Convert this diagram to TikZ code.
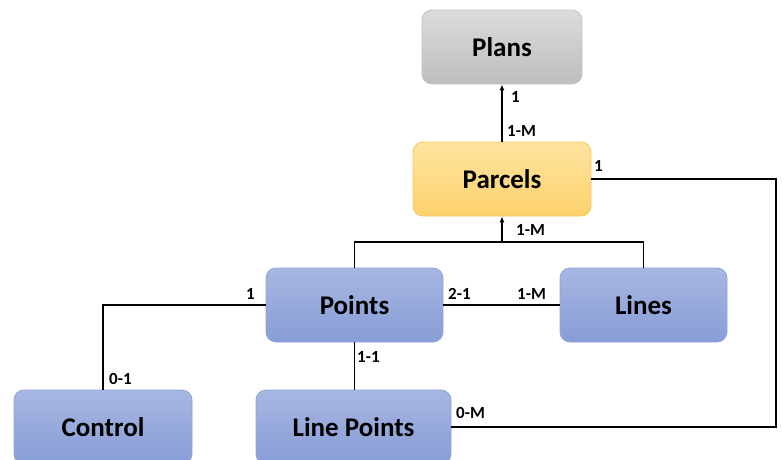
\documentclass[tikz,border=0pt]{standalone}
\usepackage{fontspec}
\setmainfont{Carlito}
\usetikzlibrary{arrows.meta}
\definecolor{bluetop}{RGB}{168,182,226}
\definecolor{bluebot}{RGB}{134,157,214}
\definecolor{blueedge}{RGB}{143,164,218}
\definecolor{graytop}{RGB}{219,219,219}
\definecolor{graybot}{RGB}{190,190,190}
\definecolor{grayedge}{RGB}{195,195,195}
\definecolor{yeltop}{RGB}{255,227,160}
\definecolor{yelbot}{RGB}{253,210,108}
\definecolor{yeledge}{RGB}{246,200,92}
\tikzset{
  entity/.style={rounded corners=10pt, minimum height=74pt, inner sep=0pt,
    font=\bfseries\fontsize{27}{30}\selectfont, text=black, line width=0.8pt},
  bluebox/.style={entity, draw=blueedge, top color=bluetop, bottom color=bluebot},
  graybox/.style={entity, draw=grayedge, top color=graytop, bottom color=graybot},
  yelbox/.style={entity, draw=yeledge, top color=yeltop, bottom color=yelbot},
  link/.style={line width=1.6pt, black},
  uplink/.style={link, -{Latex[length=6pt,width=5pt]}},
  card/.style={font=\bfseries\fontsize{17}{19}\selectfont, inner sep=0pt, anchor=west}
}
\begin{document}
\begin{tikzpicture}[x=1pt,y=-1pt]
\useasboundingbox (0,0) rectangle (782,459);
\clip (0,0) rectangle (782,459);

% entities
\node[graybox, minimum width=160pt] (plans) at (502,47) {Plans};
\node[yelbox, minimum width=178pt] (parcels) at (502,179) {Parcels};
\node[bluebox, minimum width=177pt] (points) at (354.5,305) {Points};
\node[bluebox, minimum width=167pt] (lines) at (643.5,305) {Lines};
\node[bluebox, minimum width=178pt] (control) at (103,427) {Control};
\node[bluebox, minimum width=195pt] (linepoints) at (353.5,427) {Line Points};

% routing points
\coordinate (join) at (502,242);
\coordinate (rightbend) at (776,179);

% relations
\draw[uplink] (parcels.north) -- (plans.south);
\draw[link] (parcels.east) -- (rightbend) |- (linepoints.east);
\draw[link] (points.north) -- (points.north |- join) -- (lines.north |- join) -- (lines.north);
\draw[uplink] (join) -- (parcels.south);
\draw[link] (points.east) -- (lines.west);
\draw[link] (points.west) -| (control.north);
\draw[link] (points.south) -- (points.south |- linepoints.north);

% cardinalities
\node[card] (c1) at (511,97) {1};
\node[card] (c2) at (507,131) {1-M};
\node[card] (c3) at (594,166) {1};
\node[card] (c4) at (516,230) {1-M};
\node[card] (c5) at (448,293.5) {2-1};
\node[card] (c6) at (517,293.5) {1-M};
\node[card] (c7) at (246,293.5) {1};
\node[card] (c8) at (109,379) {0-1};
\node[card] (c9) at (357,357) {1-1};
\node[card] (c10) at (456,413) {0-M};
\end{tikzpicture}
\end{document}
